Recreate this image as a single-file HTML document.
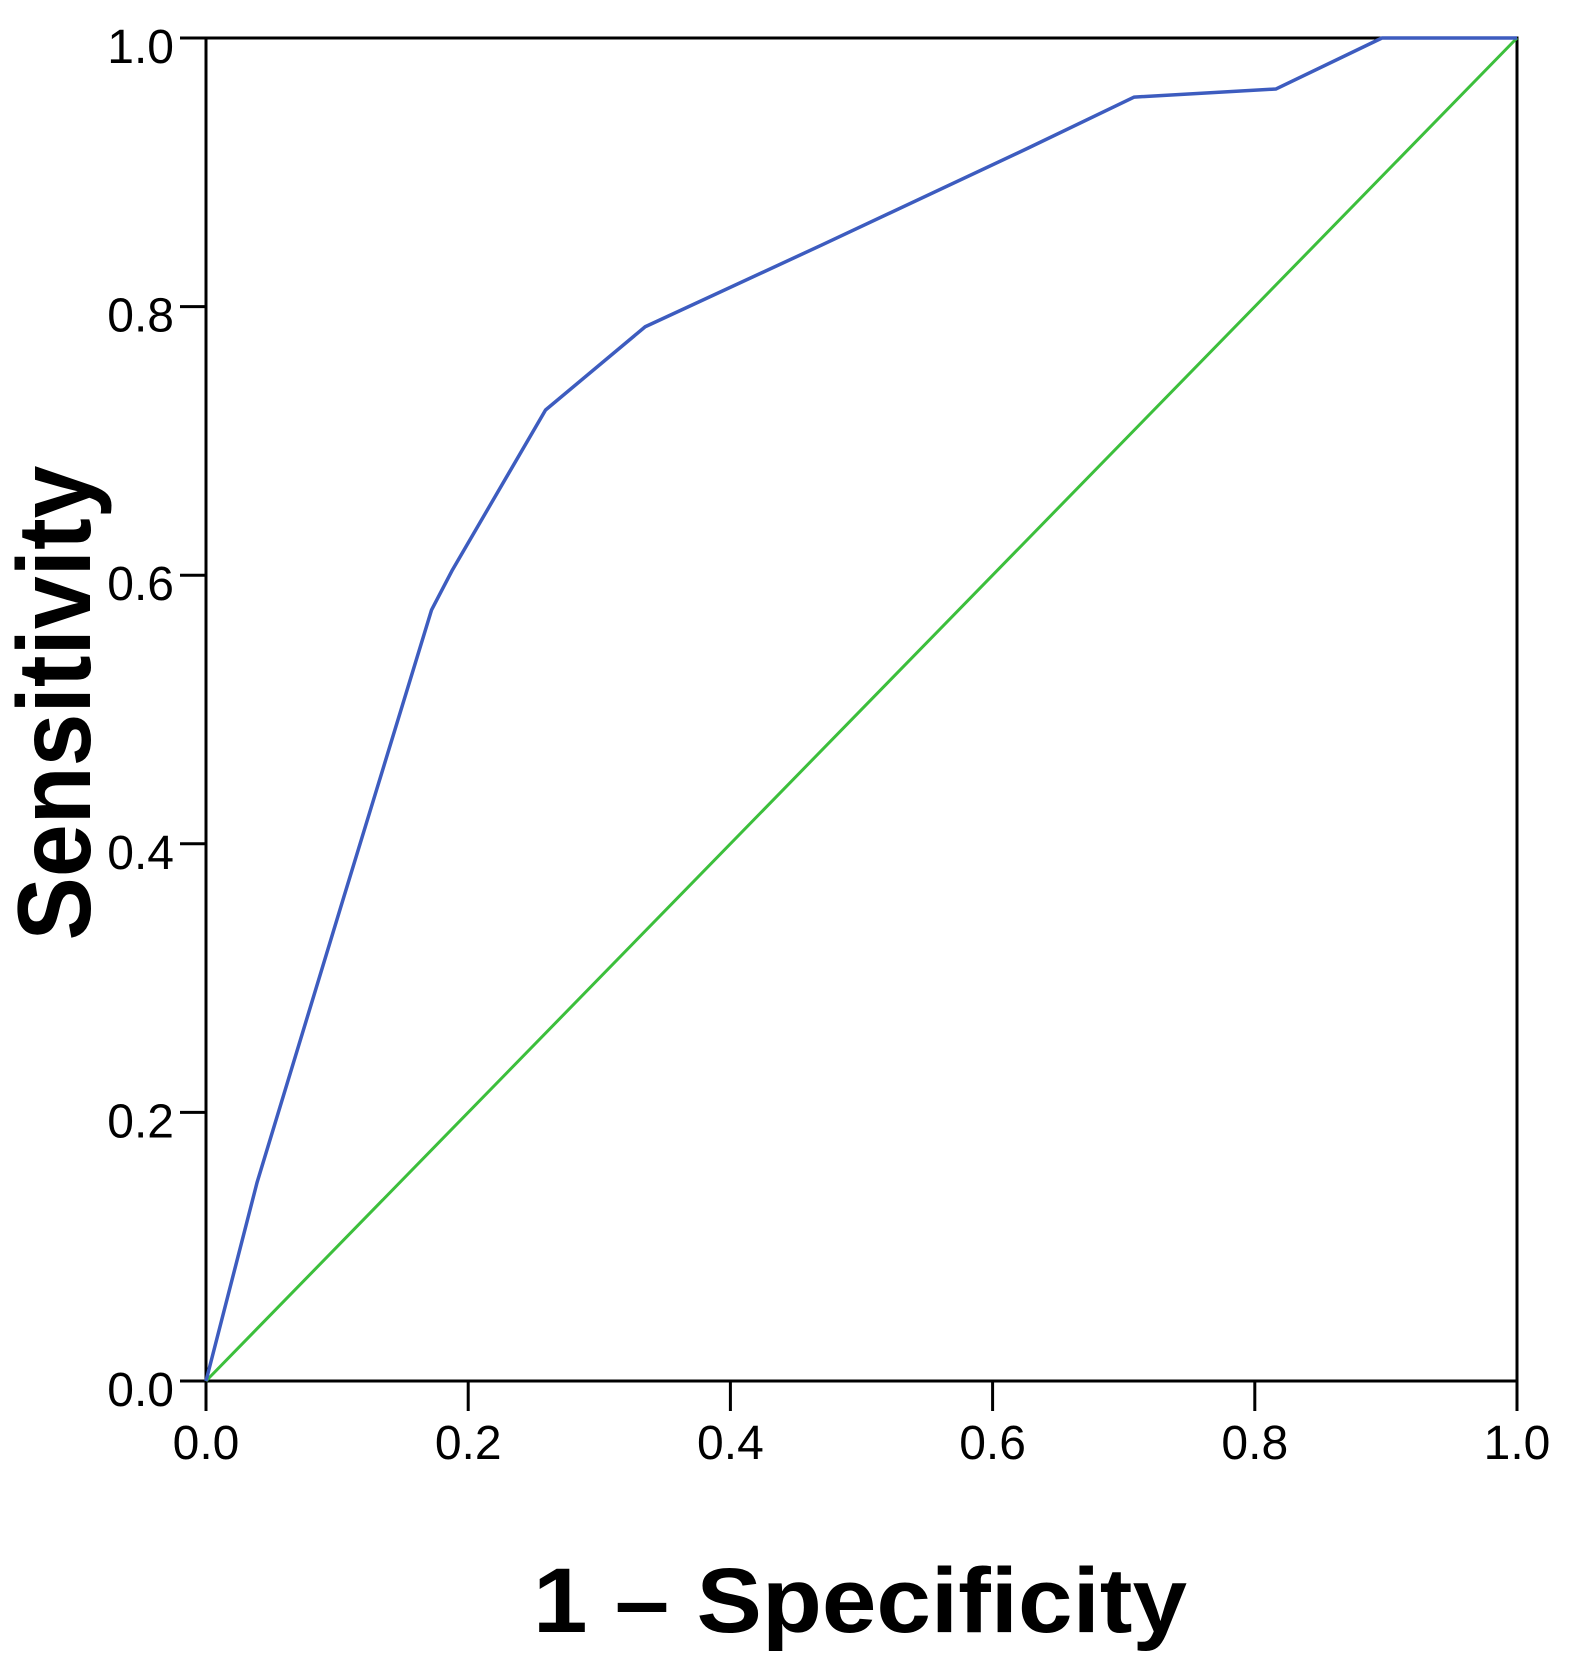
<!DOCTYPE html>
<html><head><meta charset="utf-8"><style>
html,body{margin:0;padding:0;background:#fff;}
svg{display:block;}
</style></head><body>
<svg id="chart" width="1576" height="1655" viewBox="0 0 1576 1655" xmlns="http://www.w3.org/2000/svg">
<g id="plot"></g>
<text transform="translate(90,703) rotate(-90)" text-anchor="middle" font-family="'Liberation Sans', sans-serif" font-weight="bold" font-size="104" textLength="475" lengthAdjust="spacingAndGlyphs" fill="#000">Sensitivity</text>
<text x="860" y="1632" text-anchor="middle" font-family="'Liberation Sans', sans-serif" font-weight="bold" font-size="92" textLength="654" lengthAdjust="spacingAndGlyphs" fill="#000">1 – Specificity</text>
</svg>
<script>
const rocX = [0, 0.039, 0.105, 0.172, 0.188, 0.259, 0.335, 0.470, 0.627, 0.708, 0.816, 0.897, 1.0];
const rocY = [0, 0.148, 0.36, 0.574, 0.604, 0.723, 0.785, 0.846, 0.918, 0.956, 0.962, 1.0, 1.0];
const refX = [0, 1];
const refY = [0, 1];
const tickValues = [0, 0.2, 0.4, 0.6, 0.8, 1.0];
const tickLabels = ["0.0", "0.2", "0.4", "0.6", "0.8", "1.0"];

const NS = "http://www.w3.org/2000/svg";
const L = 206, R = 1517, T = 38, B = 1381;
const sx = v => L + v * (R - L);
const sy = v => B - v * (B - T);
const g = document.getElementById('plot');
function mk(tag, attrs) { const e = document.createElementNS(NS, tag); for (const k in attrs) e.setAttribute(k, attrs[k]); g.appendChild(e); return e; }

const frame = mk('rect', {x: L, y: T, width: R - L, height: B - T, fill: 'none', stroke: '#000', 'stroke-width': 3});



tickValues.forEach((v, i) => {
  const xt = mk('line', {x1: sx(v), y1: B, x2: sx(v), y2: B + 30, stroke: '#000', 'stroke-width': 3});
  
  
  const xl = mk('text', {x: sx(v), y: 1459, 'text-anchor': 'middle', 'font-family': "'Liberation Sans', sans-serif", 'font-size': 48, fill: '#000'});
  xl.textContent = tickLabels[i];
  
  
  const yt = mk('line', {x1: L - 26, y1: sy(v), x2: L, y2: sy(v), stroke: '#000', 'stroke-width': 3});
  
  
  const yl = mk('text', {x: 174, y: sy(v) + 25, 'text-anchor': 'end', 'font-family': "'Liberation Sans', sans-serif", 'font-size': 48, fill: '#000'});
  yl.textContent = tickLabels[i];
  
  
});

const refLine = mk('polyline', {points: refX.map((x, i) => sx(x) + ',' + sy(refY[i])).join(' '), fill: 'none', stroke: '#3cbf3c', 'stroke-width': 3});



const roc = mk('polyline', {points: rocX.map((x, i) => sx(x) + ',' + sy(rocY[i])).join(' '), fill: 'none', stroke: '#3d5cbf', 'stroke-width': 3.5, 'stroke-linejoin': 'round'});


</script>
</body></html>
